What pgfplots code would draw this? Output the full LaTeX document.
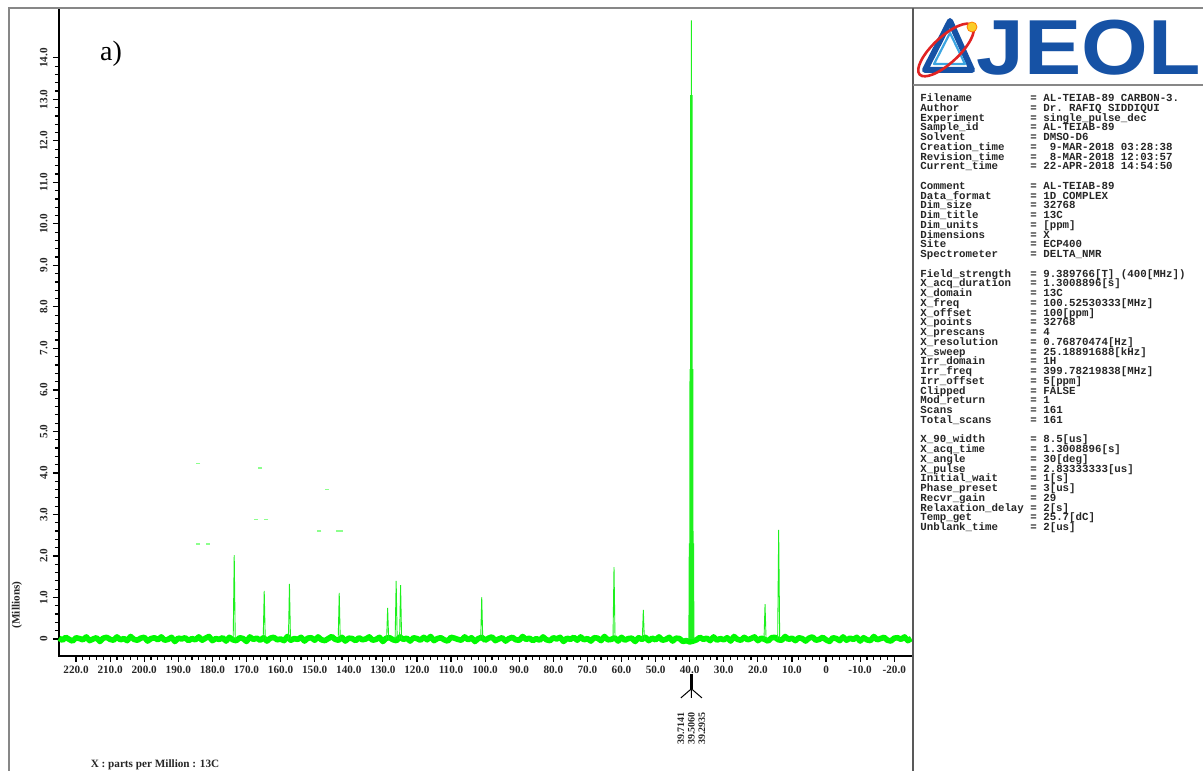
\documentclass[border=0pt]{standalone}
\usepackage{pgfplots}
\pgfplotsset{compat=1.18}
\usepackage{fontspec}
\setmainfont{Liberation Serif}
\setmonofont{Liberation Mono}
\newfontfamily\logofont{Liberation Sans}

\definecolor{specgreen}{RGB}{0,250,0}
\definecolor{peakgreen}{RGB}{30,240,30}
\definecolor{framegray}{RGB}{135,135,135}
\definecolor{jeolblue}{RGB}{22,82,165}
\definecolor{jeollight}{RGB}{60,165,225}
\definecolor{jeolred}{RGB}{225,35,35}
\definecolor{jeolyellow}{RGB}{250,205,40}

% one parameter line: name padded to 17 columns, then "= value"
\newcommand\pl[2]{\makebox[17\fontcharwd\font`M][l]{#1}= #2\\}
% tight monospaced font for the parameter list
\newcommand\parfont{\fontsize{5.39}{4.875}\selectfont\ttfamily\bfseries
  \lineskiplimit=-10pt\relax\lineskip=0pt\relax}

\begin{document}
\begin{tikzpicture}
\useasboundingbox (0,0) rectangle (601.5pt,385pt);
\begin{axis}[
  at={(29.5pt,57pt)}, anchor=south west,
  scale only axis, width=427pt, height=324pt,
  x dir=reverse, xmin=-25.5, xmax=225,
  ymin=-0.41, ymax=15.2,
  axis line style={black, line width=0.9pt},
  clip=false,
  xtick={220,210,200,190,180,170,160,150,140,130,120,110,100,90,80,70,60,50,40,30,20,10,0,-10,-20},
  xticklabels={220.0,210.0,200.0,190.0,180.0,170.0,160.0,150.0,140.0,130.0,120.0,110.0,100.0,90.0,80.0,70.0,60.0,50.0,40.0,30.0,20.0,10.0,0,-10.0,-20.0},
  ytick={0,1,2,3,4,5,6,7,8,9,10,11,12,13,14},
  yticklabels={0,1.0,2.0,3.0,4.0,5.0,6.0,7.0,8.0,9.0,10.0,11.0,12.0,13.0,14.0},
  minor x tick num=4, minor y tick num=4,
  tick align=outside,
  xtick pos=bottom, ytick pos=left,
  major tick length=3pt, minor tick length=2pt,
  tick style={black, line width=0.6pt},
  ticklabel style={font=\fontsize{5.6}{6}\selectfont\bfseries, inner sep=0pt, text=black!85},
  xticklabel style={anchor=north, yshift=-2pt},
  yticklabel style={rotate=90, anchor=south, yshift=2.5pt},
]
% baseline noise band
\addplot[specgreen, line width=2.8pt, line join=round] coordinates {
(225,0.02)(224,-0.03)(223,0.04)(222,-0.01)(221,-0.05)(220,0.03)(219,0.01)(218,-0.02)(217,0.05)(216,-0.04)
(215,0.00)(214,0.03)(213,-0.06)(212,0.02)(211,0.04)(210,-0.01)(209,-0.03)(208,0.05)(207,-0.02)(206,0.01)
(205,-0.04)(204,0.06)(203,-0.01)(202,-0.03)(201,0.02)(200,0.04)(199,-0.05)(198,0.01)(197,0.03)(196,-0.02)
(195,0.05)(194,-0.03)(193,-0.01)(192,0.04)(191,-0.06)(190,0.02)(189,0.00)(188,0.03)(187,-0.04)(186,0.01)
(185,-0.02)(184,0.05)(183,-0.03)(182,0.02)(181,0.06)(180,-0.04)(179,0.01)(178,-0.01)(177,0.03)(176,-0.05)
(175,0.04)(174,-0.02)(173,-0.04)(172,0.03)(171,0.01)(170,-0.06)(169,0.05)(168,-0.01)(167,0.02)(166,-0.03)
(165,0.03)(164,-0.05)(163,0.02)(162,0.04)(161,-0.02)(160,0.00)(159,-0.04)(158,0.06)(157,-0.03)(156,0.01)
(155,-0.01)(154,0.04)(153,-0.05)(152,0.02)(151,0.03)(150,-0.03)(149,0.05)(148,-0.02)(147,-0.04)(146,0.01)
(145,0.06)(144,-0.01)(143,-0.03)(142,0.04)(141,-0.05)(140,0.02)(139,0.01)(138,-0.04)(137,0.03)(136,-0.02)
(135,0.00)(134,0.05)(133,-0.03)(132,-0.01)(131,0.04)(130,-0.06)(129,0.02)(128,0.03)(127,-0.02)(126,-0.04)
(125,0.05)(124,-0.01)(123,0.02)(122,-0.05)(121,0.03)(120,0.01)(119,-0.03)(118,0.04)(117,-0.02)(116,0.06)
(115,-0.04)(114,0.01)(113,0.03)(112,-0.02)(111,-0.05)(110,0.04)(109,0.02)(108,-0.01)(107,-0.03)(106,0.05)
(105,-0.02)(104,0.03)(103,-0.06)(102,0.01)(101,0.04)(100,-0.03)(99,0.02)(98,0.05)(97,-0.04)(96,0.00)
(95,0.03)(94,-0.05)(93,0.01)(92,0.04)(91,-0.02)(90,-0.03)(89,0.06)(88,-0.01)(87,0.02)(86,-0.04)
(85,0.01)(84,-0.03)(83,0.05)(82,-0.02)(81,-0.04)(80,0.03)(79,0.00)(78,0.04)(77,-0.06)(76,0.02)
(75,-0.01)(74,0.04)(73,-0.03)(72,0.05)(71,-0.02)(70,0.01)(69,-0.05)(68,0.03)(67,0.02)(66,-0.04)
(65,0.06)(64,-0.02)(63,-0.01)(62,0.03)(61,-0.05)(60,0.04)(59,-0.03)(58,0.01)(57,0.02)(56,-0.06)
(55,0.03)(54,-0.01)(53,0.04)(52,-0.04)(51,0.02)(50,-0.02)(49,0.05)(48,-0.03)(47,-0.01)(46,0.04)
(45,-0.05)(44,0.02)(43,0.01)(42,-0.06)(41,-0.04)(40,-0.07)(39,-0.05)(38,-0.02)(37,0.04)(36,-0.01)
(35,0.02)(34,-0.04)(33,0.05)(32,-0.03)(31,0.01)(30,-0.02)(29,0.03)(28,-0.05)(27,0.06)(26,-0.01)
(25,-0.03)(24,0.04)(23,-0.02)(22,0.01)(21,0.05)(20,-0.04)(19,0.02)(18,-0.01)(17,-0.05)(16,0.03)
(15,0.04)(14,-0.02)(13,-0.03)(12,0.06)(11,-0.01)(10,0.02)(9,-0.04)(8,0.03)(7,0.01)(6,-0.05)
(5,0.02)(4,0.05)(3,-0.03)(2,-0.01)(1,0.04)(0,-0.02)(-1,-0.06)(-2,0.03)(-3,0.01)(-4,-0.04)
(-5,0.05)(-6,-0.03)(-7,0.02)(-8,-0.01)(-9,0.04)(-10,-0.05)(-11,0.03)(-12,-0.02)(-13,-0.04)(-14,0.06)
(-15,-0.02)(-16,0.01)(-17,0.04)(-18,-0.03)(-19,-0.05)(-20,0.02)(-21,0.03)(-22,-0.01)(-23,0.05)(-24,-0.04)
(-25,0.01)
};
% resonances
\addplot[peakgreen, line width=0.45pt, line join=miter] coordinates {
(225,0)
(173.9,0)(173.6,2.02)(173.3,0)
(165.1,0)(164.8,1.16)(164.5,0)
(157.7,0)(157.4,1.33)(157.1,0)
(143.1,0)(142.8,1.11)(142.5,0)
(128.9,0)(128.6,0.75)(128.3,0)
(126.4,0)(126.1,1.40)(125.8,0)
(125.1,0)(124.8,1.30)(124.5,0)
(101.3,0)(101.0,1.01)(100.7,0)
(62.5,0)(62.2,1.73)(61.9,0)
(53.9,0)(53.6,0.70)(53.3,0)
(40.25,0)(40.130,2.3)(40.025,0)(39.922,6.5)(39.818,0)(39.7141,13.1)(39.610,0)(39.5060,14.9)(39.400,0)(39.2935,13.1)(39.187,0)(39.081,6.5)(38.975,0)(38.870,2.3)(38.75,0)
(18.2,0)(17.9,0.84)(17.6,0)
(14.2,0)(13.9,2.63)(13.6,0)
(-25,0)
};
% isolated plotter dots
\addplot[only marks, mark=-, mark size=1pt, color=green!45, mark options={line width=0.6pt}] coordinates {
(184.2,4.22)(166.0,4.12)(146.4,3.61)(184.2,2.29)(181.4,2.29)(167.2,2.87)(164.2,2.87)(148.6,2.60)(143.1,2.60)(142.4,2.60)
};
% solvent multiplet marker
\draw[black, line width=1.6pt] (axis cs:39.5060,-0.84) -- (axis cs:39.5060,-1.2);
\draw[black, line width=0.5pt] (axis cs:39.5060,-1.2) -- (axis cs:42.6,-1.42)
  (axis cs:39.5060,-1.2) -- (axis cs:39.5060,-1.42)
  (axis cs:39.5060,-1.2) -- (axis cs:36.4,-1.42);
\begin{scope}[every node/.style={rotate=90, anchor=east, inner sep=0pt, font=\fontsize{5}{5}\selectfont\bfseries, text=black!85}]
\node at (axis cs:42.6,-1.76) {39.7141};
\node at (axis cs:39.5060,-1.76) {39.5060};
\node at (axis cs:36.4,-1.76) {39.2935};
\end{scope}
\end{axis}

\begin{scope}[x=0.5pt, y=-0.5pt, shift={(0pt,385pt)}]
% frame
\draw[framegray, line width=1.4pt] (9,772) -- (9,8) -- (1206,8);
\draw[black!65, line width=1.1pt] (913,8) -- (913,772);
\draw[framegray, line width=1pt] (913,85) -- (1206,85);
% labels
\node[rotate=90, inner sep=0pt, font=\fontsize{5.6}{6}\selectfont\bfseries, text=black!85] at (17,605) {(Millions)};
\node[inner sep=0pt, font=\fontsize{5.6}{6}\selectfont\bfseries, text=black!85] at (155,765) {X : parts per Million : 13C};
\node[inner sep=0pt, font=\fontsize{14}{16}\selectfont] at (111,54) {a)};
% logo
\node[anchor=west, inner sep=0pt, text=jeolblue, font=\logofont\bfseries\fontsize{39}{39}\selectfont, xscale=1.1] at (976,48) {JEOL};
\draw[jeolblue, line width=3pt, line join=round] (950,21) -- (925,70) -- (972,70) -- cycle;
\draw[jeollight, line width=1.1pt, line join=round] (950,33) -- (934,64) -- (965,64) -- cycle;
\draw[jeolred, line width=1.3pt, rotate around={43:(946,50)}] (946,50) ellipse (36 and 13);
\fill[jeolyellow, draw=orange, line width=0.4pt] (972,27) circle (5);
% acquisition parameters
\node[anchor=north west, inner sep=0pt, align=left, text=black!85, font=\parfont] at (920,93.5) {%
\pl{Filename}{AL-TEIAB-89 CARBON-3.}
\pl{Author}{Dr. RAFIQ SIDDIQUI}
\pl{Experiment}{single\_pulse\_dec}
\pl{Sample\_id}{AL-TEIAB-89}
\pl{Solvent}{DMSO-D6}
\pl{Creation\_time}{\ 9-MAR-2018 03:28:38}
\pl{Revision\_time}{\ 8-MAR-2018 12:03:57}
\pl{Current\_time}{22-APR-2018 14:54:50}
\mbox{}\\
\pl{Comment}{AL-TEIAB-89}
\pl{Data\_format}{1D COMPLEX}
\pl{Dim\_size}{32768}
\pl{Dim\_title}{13C}
\pl{Dim\_units}{[ppm]}
\pl{Dimensions}{X}
\pl{Site}{ECP400}
\pl{Spectrometer}{DELTA\_NMR}
\mbox{}\\
\pl{Field\_strength}{9.389766[T] (400[MHz])}
\pl{X\_acq\_duration}{1.3008896[s]}
\pl{X\_domain}{13C}
\pl{X\_freq}{100.52530333[MHz]}
\pl{X\_offset}{100[ppm]}
\pl{X\_points}{32768}
\pl{X\_prescans}{4}
\pl{X\_resolution}{0.76870474[Hz]}
\pl{X\_sweep}{25.18891688[kHz]}
\pl{Irr\_domain}{1H}
\pl{Irr\_freq}{399.78219838[MHz]}
\pl{Irr\_offset}{5[ppm]}
\pl{Clipped}{FALSE}
\pl{Mod\_return}{1}
\pl{Scans}{161}
\pl{Total\_scans}{161}
\mbox{}\\
\pl{X\_90\_width}{8.5[us]}
\pl{X\_acq\_time}{1.3008896[s]}
\pl{X\_angle}{30[deg]}
\pl{X\_pulse}{2.83333333[us]}
\pl{Initial\_wait}{1[s]}
\pl{Phase\_preset}{3[us]}
\pl{Recvr\_gain}{29}
\pl{Relaxation\_delay}{2[s]}
\pl{Temp\_get}{25.7[dC]}
\makebox[17\fontcharwd\font`M][l]{Unblank\_time}= 2[us]};
\end{scope}
\end{tikzpicture}
\end{document}
